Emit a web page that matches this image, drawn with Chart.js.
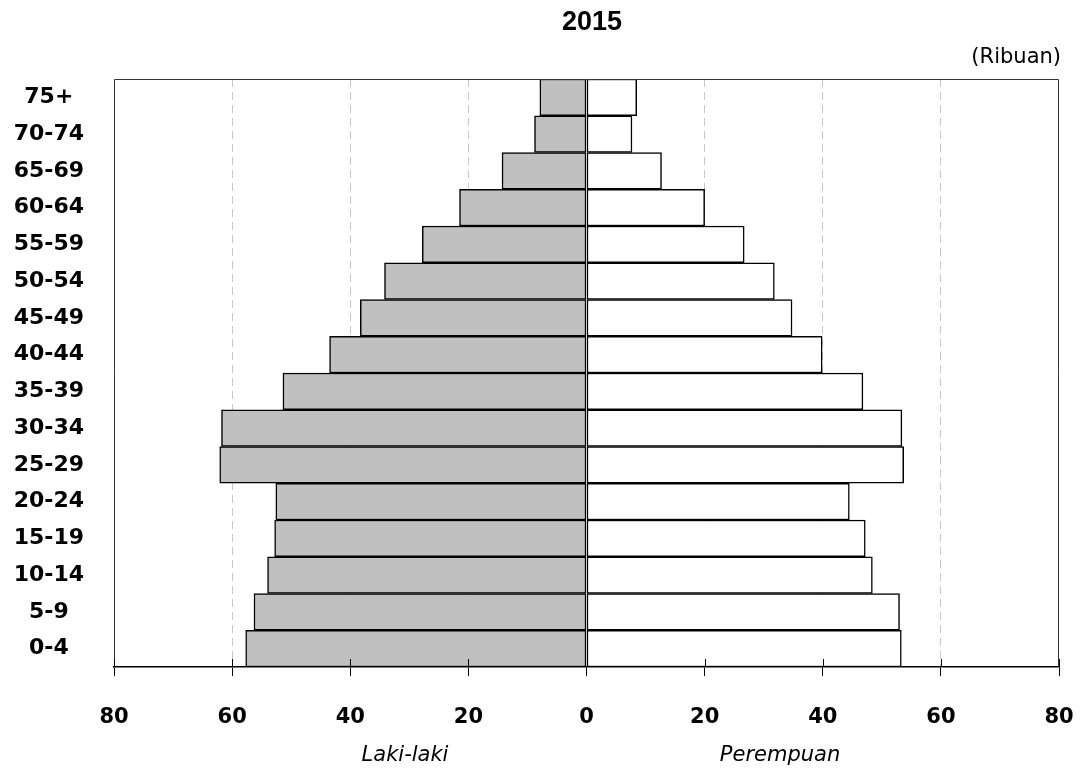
<!DOCTYPE html>
<html>
<head>
<meta charset="utf-8">
<script src="https://cdn.jsdelivr.net/npm/chart.js@4.4.1/dist/chart.umd.min.js"></script>
<style>
  html, body { margin: 0; padding: 0; background: #fff; }
  #wrap { width: 1082px; height: 774px; }
</style>
</head>
<body>
<div id="wrap"><canvas id="myChart"></canvas></div>
<script>
// kelompok umur (atas ke bawah), nilai dalam ribuan
const ageGroups = ['75+', '70-74', '65-69', '60-64', '55-59', '50-54', '45-49', '40-44',
                   '35-39', '30-34', '25-29', '20-24', '15-19', '10-14', '5-9', '0-4'];
const lakiLaki  = [7.9, 8.8, 14.3, 21.5, 27.8, 34.2, 38.3, 43.5,
                   51.4, 61.8, 62.1, 52.6, 52.8, 54.0, 56.3, 57.7];
const perempuan = [8.5, 7.7, 12.7, 20.0, 26.7, 31.8, 34.8, 39.9,
                   46.8, 53.4, 53.7, 44.5, 47.2, 48.4, 53.0, 53.3];
const gridValues = [-60, -40, -20, 20, 40, 60];

const ctx = document.getElementById('myChart');

const extras = {
  id: 'extras',
  afterDraw(chart) {
    const c = chart.ctx;
    const a = chart.chartArea;
    const x = chart.scales.x;
    c.save();
    // frame (left, top, right)
    c.strokeStyle = '#333';
    c.lineWidth = 1;
    c.beginPath();
    c.moveTo(a.left + 0.5, a.bottom);
    c.lineTo(a.left + 0.5, a.top + 0.5);
    c.lineTo(a.right - 0.5, a.top + 0.5);
    c.lineTo(a.right - 0.5, a.bottom);
    c.stroke();
    // tick marks crossing into the plot
    c.strokeStyle = '#000';
    c.beginPath();
    x.ticks.forEach(t => {
      const px = Math.round(x.getPixelForValue(t.value)) + 0.5;
      c.moveTo(px, a.bottom - 8);
      c.lineTo(px, a.bottom);
    });
    c.stroke();

    c.fillStyle = '#000';
    c.textBaseline = 'middle';
    c.textAlign = 'center';
    c.font = "bold 27px 'Liberation Sans Narrow', 'Liberation Sans', sans-serif";
    c.fillText('2015', 592, 23);

    c.textAlign = 'right';
    c.font = "21px 'DejaVu Sans', sans-serif";
    c.fillText('(Ribuan)', 1061, 58);

    c.textAlign = 'center';
    c.font = "italic 21px 'DejaVu Sans', sans-serif";
    c.fillText('Laki-laki', 405, 756);
    c.fillText('Perempuan', 780, 756);
    c.restore();
  }
};

const chart = new Chart(ctx, {
  type: 'bar',
  data: {
    labels: ageGroups,
    datasets: [
      {
        label: 'Laki-laki',
        data: lakiLaki.map(v => -v),
        backgroundColor: '#c0c0c0',
        borderColor: '#000',
        borderWidth: 1.5,
        borderSkipped: false,
        barPercentage: 1,
        categoryPercentage: 1
      },
      {
        label: 'Perempuan',
        data: perempuan,
        backgroundColor: '#fff',
        borderColor: '#000',
        borderWidth: 1.5,
        borderSkipped: false,
        barPercentage: 1,
        categoryPercentage: 1
      }
    ]
  },
  options: {
    indexAxis: 'y',
    responsive: true,
    maintainAspectRatio: false,
    animation: false,
    layout: { padding: { left: 0, right: 23, top: 79, bottom: 0 } },
    plugins: {
      legend: { display: false },
      tooltip: { enabled: false },
      title: { display: false }
    },
    scales: {
      x: {
        stacked: true,
        min: -80,
        max: 80,
        afterFit(s) {
          s.height = 107;
          s.paddingLeft = 0;
          s.paddingRight = 0;
        },
        ticks: {
          stepSize: 20,
          padding: 29,
          color: '#000',
          font: { family: "'DejaVu Sans', sans-serif", size: 21, weight: 'bold' },
          callback: v => Math.abs(v)
        },
        grid: {
          color: c => (c.tick && gridValues.includes(c.tick.value)) ? '#c8c8c8' : 'rgba(0,0,0,0)',
          tickColor: '#000',
          tickLength: 9,
          tickWidth: 1,
          tickBorderDash: []
        },
        border: { display: true, color: '#000', width: 1.5, dash: [8, 5] }
      },
      y: {
        stacked: true,
        afterFit(s) { s.width = 114; },
        grid: { display: false, drawTicks: false, tickLength: 0 },
        border: { display: false },
        ticks: {
          crossAlign: 'center',
          padding: 30,
          color: '#000',
          font: { family: "'DejaVu Sans', sans-serif", size: 22, weight: 'bold' }
        }
      }
    }
  },
  plugins: [extras]
});
</script>
</body>
</html>
